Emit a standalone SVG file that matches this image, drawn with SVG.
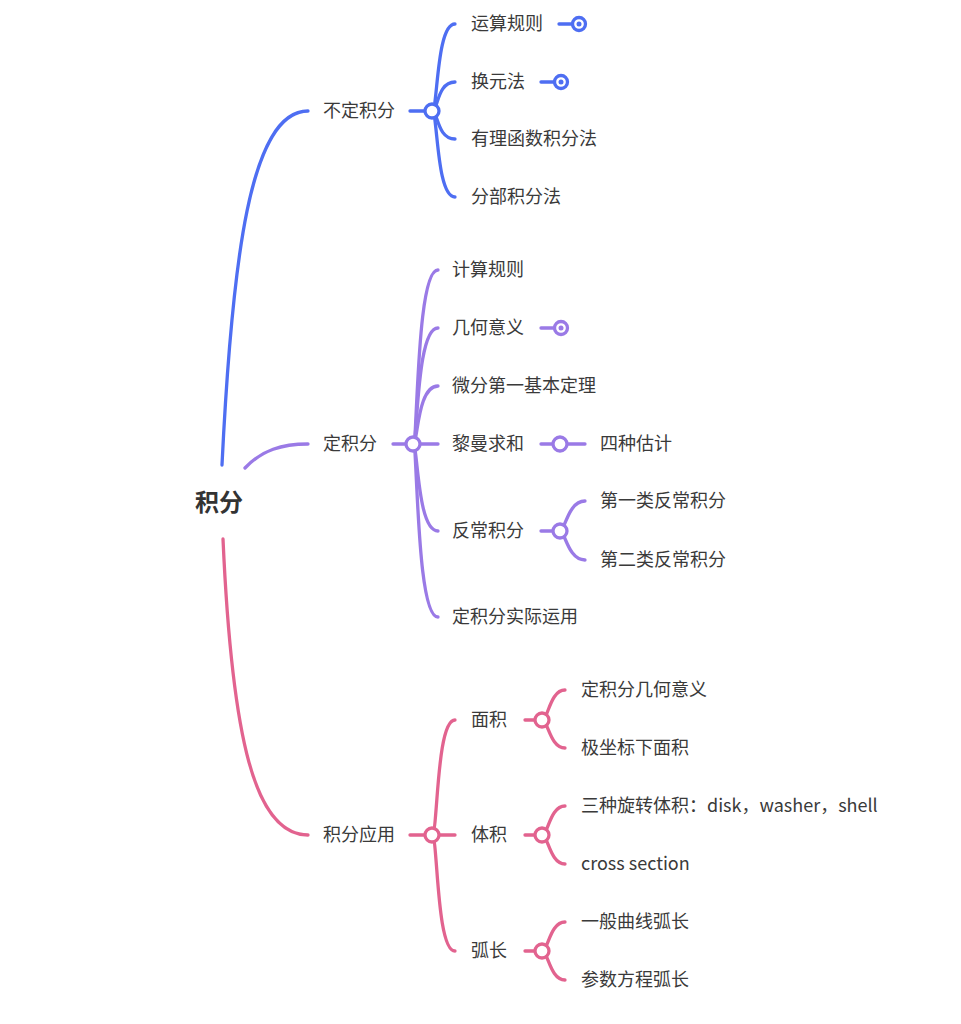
<svg xmlns="http://www.w3.org/2000/svg" width="961" height="1024" viewBox="0 0 961 1024">
<style>
text{font-family:"Noto Sans CJK SC","Noto Sans",sans-serif;font-size:18px;fill:#3a3a3a;dominant-baseline:central}
.root{font-size:24px;font-weight:bold;fill:#333}
path,line{fill:none;stroke-linecap:round}
.b{stroke:#4e6ef2;stroke-width:3.3}
.p{stroke:#9a7ae6;stroke-width:3.3}
.k{stroke:#e2638f;stroke-width:3.3}
circle.b,circle.p,circle.k{fill:#fff}
.bd{fill:#4e6ef2}
.pd{fill:#9a7ae6}
</style>
<rect width="961" height="1024" fill="#fff"/>
<g id="connectors">
<path class="b" d="M222 465 C232 260 250 111 308 111"/>
<path class="p" d="M245 468 C262 450 282 444 308 444"/>
<path class="k" d="M223 539 C232 740 255 835 308 835"/>
<line class="b" x1="410" y1="111" x2="426" y2="111"/>
<path class="b" d="M432 111 C438 111 436 24 455 24"/>
<path class="b" d="M432 111 C438 111 437 82 455 82"/>
<path class="b" d="M432 111 C438 111 437 139 455 139"/>
<path class="b" d="M432 111 C438 111 436 197 455 197"/>
<line class="b" x1="559" y1="24" x2="572" y2="24"/>
<line class="b" x1="541" y1="82" x2="554" y2="82"/>
<line class="p" x1="393" y1="444" x2="438" y2="444"/>
<path class="p" d="M413 444 C418 444 416 270 438 270"/>
<path class="p" d="M413 444 C418 444 416 328 438 328"/>
<path class="p" d="M413 444 C418 444 417 386 438 386"/>
<path class="p" d="M413 444 C418 444 417 531 438 531"/>
<path class="p" d="M413 444 C418 444 416 617 438 617"/>
<line class="p" x1="541" y1="328" x2="554" y2="328"/>
<line class="p" x1="541" y1="444" x2="585" y2="444"/>
<line class="p" x1="541" y1="531" x2="555" y2="531"/>
<path class="p" d="M560 531 C565 531 568 501 585 501"/>
<path class="p" d="M560 531 C565 531 568 560 585 560"/>
<line class="k" x1="410" y1="835" x2="455" y2="835"/>
<path class="k" d="M432 835 C438 835 436 720 455 720"/>
<path class="k" d="M432 835 C438 835 436 951 455 951"/>
<line class="k" x1="525" y1="720" x2="537" y2="720"/>
<line class="k" x1="525" y1="835" x2="537" y2="835"/>
<line class="k" x1="525" y1="951" x2="537" y2="951"/>
<path class="k" d="M542 720 C548 720 550 690 565 690"/>
<path class="k" d="M542 720 C548 720 550 748 565 748"/>
<path class="k" d="M542 835 C548 835 550 806 565 806"/>
<path class="k" d="M542 835 C548 835 550 864 565 864"/>
<path class="k" d="M542 951 C548 951 550 922 565 922"/>
<path class="k" d="M542 951 C548 951 550 980 565 980"/>
</g>
<g id="root"><text class="root" x="195" y="500">积分</text></g>
<g id="n-budingjifen"><text x="323" y="109">不定积分</text><circle class="b" cx="432" cy="111" r="7"/></g>
<g id="n-yunsuan"><text x="471" y="22">运算规则</text><circle class="b" cx="579" cy="24" r="6.5"/><circle class="bd" cx="579" cy="24" r="2.5"/></g>
<g id="n-huanyuan"><text x="471" y="80">换元法</text><circle class="b" cx="561" cy="82" r="6.5"/><circle class="bd" cx="561" cy="82" r="2.5"/></g>
<g id="n-youli"><text x="471" y="137">有理函数积分法</text></g>
<g id="n-fenbu"><text x="471" y="195">分部积分法</text></g>
<g id="n-dingjifen"><text x="323" y="442">定积分</text><circle class="p" cx="413" cy="444" r="7"/></g>
<g id="n-jisuan"><text x="452" y="268">计算规则</text></g>
<g id="n-jihe"><text x="452" y="326">几何意义</text><circle class="p" cx="561" cy="328" r="6.5"/><circle class="pd" cx="561" cy="328" r="2.5"/></g>
<g id="n-weifen"><text x="452" y="384">微分第一基本定理</text></g>
<g id="n-liman"><text x="452" y="442">黎曼求和</text><circle class="p" cx="560" cy="444" r="7"/></g>
<g id="n-sizhong"><text x="600" y="442">四种估计</text></g>
<g id="n-fanchang"><text x="452" y="529">反常积分</text><circle class="p" cx="560" cy="531" r="7"/></g>
<g id="n-diyi"><text x="600" y="499">第一类反常积分</text></g>
<g id="n-dier"><text x="600" y="558">第二类反常积分</text></g>
<g id="n-shiji"><text x="452" y="615">定积分实际运用</text></g>
<g id="n-yingyong"><text x="323" y="833">积分应用</text><circle class="k" cx="432" cy="835" r="7"/></g>
<g id="n-mianji"><text x="471" y="718">面积</text><circle class="k" cx="542" cy="720" r="7"/></g>
<g id="n-dingjihe"><text x="581" y="688">定积分几何意义</text></g>
<g id="n-jizuobiao"><text x="581" y="746">极坐标下面积</text></g>
<g id="n-tiji"><text x="471" y="833">体积</text><circle class="k" cx="542" cy="835" r="7"/></g>
<g id="n-xuanzhuan"><text x="581" y="804">三种旋转体积：disk，washer，shell</text></g>
<g id="n-cross"><text x="581" y="862">cross section</text></g>
<g id="n-huchang"><text x="471" y="949">弧长</text><circle class="k" cx="542" cy="951" r="7"/></g>
<g id="n-yiban"><text x="581" y="920">一般曲线弧长</text></g>
<g id="n-canshu"><text x="581" y="978">参数方程弧长</text></g>
</svg>
